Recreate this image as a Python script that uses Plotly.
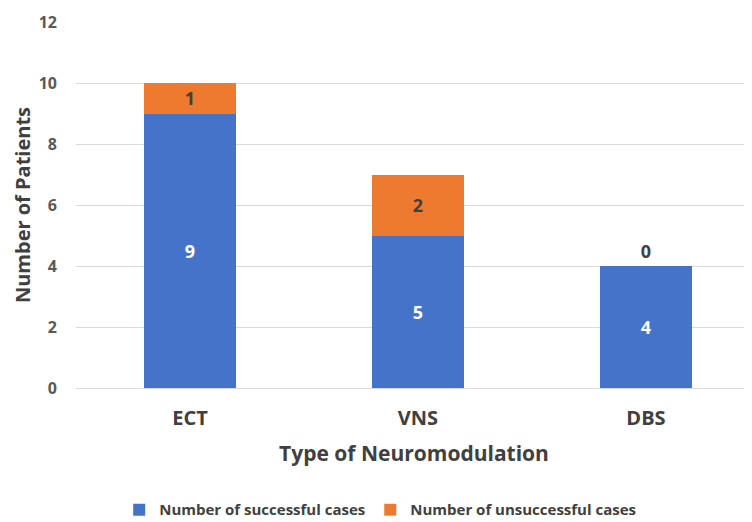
import plotly.graph_objects as go

categories = ["ECT", "VNS", "DBS"]
successful = [9, 5, 4]
unsuccessful = [1, 2, 0]
y_ticks = [0, 2, 4, 6, 8, 10, 12]

FONT = "Open Sans"
fig = go.Figure()
fig.add_trace(go.Bar(
    x=categories, y=successful, name="Number of successful cases",
    marker=dict(color="#4673CA", line=dict(width=0)),
    text=[str(v) for v in successful], textposition="inside", insidetextanchor="middle",
    textfont=dict(family=FONT, size=18, color="white", weight="bold"),
    width=0.4,
))
fig.add_trace(go.Bar(
    x=categories, y=unsuccessful, name="Number of unsuccessful cases",
    marker=dict(color="#EE7A2F", line=dict(width=0)),
    text=[str(v) for v in unsuccessful],
    textposition=["inside" if v > 0 else "outside" for v in unsuccessful],
    insidetextanchor="middle",
    textfont=dict(family=FONT, size=18, color="#404040", weight="bold"),
    outsidetextfont=dict(family=FONT, size=18, color="#404040", weight="bold"),
    cliponaxis=False,
    width=0.4,
))
fig.update_layout(
    barmode="stack",
    width=744, height=514,
    margin=dict(l=68, r=0, t=14, b=134, autoexpand=False),
    paper_bgcolor="white", plot_bgcolor="white",
    font=dict(family=FONT, color="#595959"),
    xaxis=dict(
        range=[-0.5, 2.465], automargin=False,
        showline=False, ticks="",
        tickfont=dict(family=FONT, size=20, color="#404040", weight="bold"),
        ticklabelstandoff=16,
        title=dict(text="Type of Neuromodulation", standoff=16,
                   font=dict(family=FONT, size=21, color="#404040", weight="bold")),
    ),
    yaxis=dict(
        range=[0, 12], tickvals=y_ticks, ticktext=[str(v) for v in y_ticks],
        automargin=False,
        showgrid=True, gridcolor="#d9d9d9", gridwidth=1,
        zeroline=True, zerolinecolor="#d9d9d9", zerolinewidth=1,
        tickfont=dict(family=FONT, size=16, color="#595959", weight="bold"),
        ticklabelstandoff=18,
        title=dict(text="Number of Patients", standoff=2,
                   font=dict(family=FONT, size=20, color="#404040", weight="bold")),
    ),
    legend=dict(
        orientation="h",
        x=0.45, xanchor="center", y=-0.333, yanchor="middle",
        font=dict(family=FONT, size=15, color="#404040", weight="bold"),
        traceorder="normal",
    ),
)
fig.write_html("out.html")
